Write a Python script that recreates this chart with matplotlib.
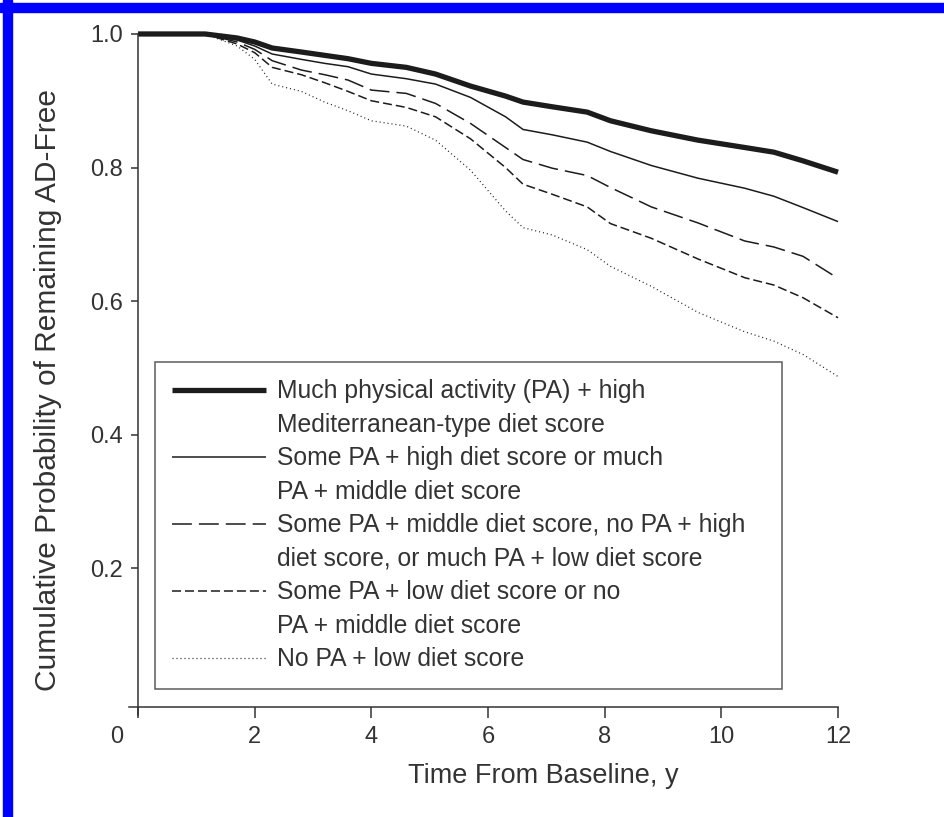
import matplotlib
matplotlib.use("Agg")
import matplotlib.pyplot as plt
from matplotlib.lines import Line2D
from matplotlib.patches import Rectangle
from matplotlib.transforms import ScaledTranslation

plt.rcParams["font.family"] = ["Liberation Sans", "DejaVu Sans"]

# years from baseline
years = [0, 1.15, 1.7, 2.0, 2.3, 2.8, 3.2, 3.6, 4.0, 4.6, 5.1, 5.7, 6.3, 6.6,
         7.1, 7.7, 8.1, 8.8, 9.6, 10.4, 10.9, 11.4, 12.0]

much_pa_high_diet = [1.0, 1.0, 0.994, 0.988, 0.979, 0.973, 0.968, 0.963, 0.956, 0.950,
                     0.940, 0.922, 0.907, 0.898, 0.891, 0.883, 0.870, 0.855, 0.841,
                     0.830, 0.823, 0.810, 0.793]
some_pa_high_diet = [1.0, 1.0, 0.991, 0.982, 0.970, 0.962, 0.956, 0.951, 0.940, 0.933,
                     0.925, 0.905, 0.876, 0.857, 0.849, 0.838, 0.824, 0.803, 0.784,
                     0.769, 0.757, 0.740, 0.719]
some_pa_middle_diet = [1.0, 1.0, 0.988, 0.977, 0.960, 0.946, 0.939, 0.931, 0.916, 0.911,
                       0.896, 0.866, 0.830, 0.812, 0.799, 0.788, 0.770, 0.741, 0.717,
                       0.690, 0.681, 0.667, 0.634]
some_pa_low_diet = [1.0, 1.0, 0.985, 0.972, 0.950, 0.939, 0.927, 0.914, 0.900, 0.890,
                    0.876, 0.843, 0.800, 0.775, 0.760, 0.741, 0.716, 0.694, 0.663,
                    0.635, 0.624, 0.605, 0.575]
no_pa_low_diet = [1.0, 1.0, 0.982, 0.962, 0.925, 0.914, 0.898, 0.885, 0.870, 0.862,
                  0.841, 0.796, 0.735, 0.710, 0.699, 0.677, 0.652, 0.622, 0.583,
                  0.554, 0.540, 0.520, 0.487]

labels = [
    ["Much physical activity (PA) + high", "Mediterranean-type diet score"],
    ["Some PA + high diet score or much", "PA + middle diet score"],
    ["Some PA + middle diet score, no PA + high", "diet score, or much PA + low diet score"],
    ["Some PA + low diet score or no", "PA + middle diet score"],
    ["No PA + low diet score"],
]

x_ticks = [0, 2, 4, 6, 8, 10, 12]
y_ticks = [0.2, 0.4, 0.6, 0.8, 1.0]

ink = "#1c1c1c"
styles = [
    dict(lw=3.8, ls="-"),
    dict(lw=1.1, ls="-"),
    dict(lw=1.1, ls=(0, (13, 4.6))),
    dict(lw=1.1, ls=(0, (5.9, 2.6))),
    dict(lw=0.9, ls=(0, (0.8, 2.4))),
]

fig = plt.figure(figsize=(9.45, 8.17), dpi=100)
ax = fig.add_axes([0.1368, 0.1248, 0.75, 0.8336])

series = [much_pa_high_diet, some_pa_high_diet, some_pa_middle_diet,
          some_pa_low_diet, no_pa_low_diet]
for vals, st in zip(series, styles):
    ax.plot(years, vals, color=ink, solid_capstyle="butt", dash_capstyle="butt",
            clip_on=False, **st)

ax.set_xlim(-0.15, 12)
ax.set_ylim(-0.020, 1.0)
ax.spines["left"].set_position(("data", 0))
ax.spines["bottom"].set_position(("data", -0.008))
for s in ["top", "right"]:
    ax.spines[s].set_visible(False)
for s in ["left", "bottom"]:
    ax.spines[s].set_color("#333333")
    ax.spines[s].set_linewidth(1.1)

ax.set_xticks(x_ticks)
ax.set_xticklabels([str(t) for t in x_ticks])
ax.set_yticks(y_ticks)
ax.set_yticklabels([f"{v:.1f}" for v in y_ticks])
ax.tick_params(axis="x", length=8, width=1.1, color="#333333", pad=6,
               labelsize=17, labelcolor="#333333")
ax.tick_params(axis="y", length=5, width=1.1, color="#333333", pad=6,
               labelsize=17, labelcolor="#333333")
zero_lab = ax.xaxis.get_major_ticks()[0].label1
zero_lab.set_transform(zero_lab.get_transform() +
                       ScaledTranslation(-0.21, 0, fig.dpi_scale_trans))

ax.set_xlabel("Time From Baseline, y", fontsize=19.5, color="#333333")
ax.xaxis.set_label_coords(0.584, -0.071)
ax.set_ylabel("Cumulative Probability of Remaining AD-Free", fontsize=21.5,
              color="#333333")
ax.yaxis.set_label_coords(-0.095, 0.477)

# legend: one row per text line so the key sits on the first line
handles, texts = [], []
for st, lab in zip(styles, labels):
    handles.append(Line2D([], [], color=ink, solid_capstyle="butt",
                          dash_capstyle="butt", **st))
    texts.append(lab[0])
    for extra in lab[1:]:
        handles.append(Line2D([], [], color="none"))
        texts.append(extra)

leg = fig.legend(handles, texts, loc="upper left",
                 bbox_to_anchor=(0.164, 0.157, 0.6635, 0.4), mode="expand",
                 borderaxespad=0, fontsize=17.8, handlelength=3.8,
                 handletextpad=0.45, labelspacing=0.385, borderpad=0.7,
                 fancybox=False, frameon=True, labelcolor="#333333")
leg.get_frame().set_edgecolor("#333333")
leg.get_frame().set_linewidth(1.1)

# blue frame of the scanned figure
fig.patches.append(Rectangle((0, 1 - 12 / 817), 1, 9 / 817, transform=fig.transFigure,
                             color="#0000ff", zorder=10))
fig.patches.append(Rectangle((3 / 945, 0), 9 / 945, 1, transform=fig.transFigure,
                             color="#0000ff", zorder=10))

fig.savefig("out.png", dpi=100)
